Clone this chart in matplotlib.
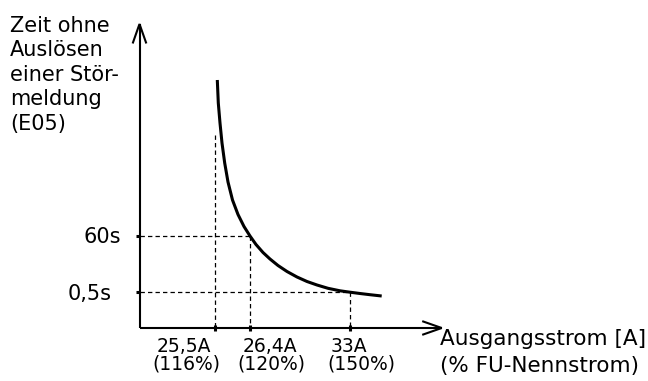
import matplotlib
matplotlib.use("Agg")
import matplotlib.pyplot as plt

# ---- data (schematic; pixel-like coordinates, y downward) ----
curve_x = [217.3, 218.3, 220, 222, 224.7, 228, 232.5, 238, 244, 250, 256, 263, 270, 278, 287, 297,
           307, 317, 328, 340, 350, 360, 370, 381.7]
curve_y = [80, 103, 123, 143, 163, 182, 200, 214.5, 226.5, 236, 244.5, 252.5, 259, 265.5, 271.5, 277,
           281.5, 285, 288.3, 290.8, 292.2, 293.5, 294.7, 296]

origin_x, origin_y = 139.5, 328
yaxis_top = 24
xaxis_right = 441.7

xtick_pos = [214.7, 249.5, 350]
xtick_top = [135, 235.5, 292.2]          # top end of dashed verticals
xtick_line1 = ["25,5A", "26,4A", "33A"]
xtick_line2 = ["(116%)", "(120%)", "(150%)"]
xtick_c1 = [183.7, 269.5, 349]
xtick_c2 = [186, 271, 361]

ytick_pos = [235.5, 292.2]
ytick_right = [249.5, 350]               # right end of dashed horizontals
ytick_labels = ["60s", "0,5s"]
ytick_label_right = [121, 112]

ylabel_lines = ["Zeit ohne", "Auslösen", "einer Stör-", "meldung", "(E05)"]
xlabel_lines = ["Ausgangsstrom [A]", "(% FU-Nennstrom)"]

W, H = 648, 381
plt.rcParams["font.family"] = ["DejaVu Sans"]
fig = plt.figure(figsize=(W / 100, H / 100), dpi=100)
ax = fig.add_axes([0, 0, 1, 1])
ax.set_xlim(0, W)
ax.set_ylim(H, 0)
ax.axis("off")

# axes lines
ax.plot([origin_x, origin_x], [origin_y, yaxis_top], color="black", lw=1.5, solid_capstyle="butt")
ax.plot([origin_x, xaxis_right], [origin_y, origin_y], color="black", lw=1.5, solid_capstyle="butt")
# arrow heads (open chevrons)
hl, hw = 18.5, 6.5
ax.plot([origin_x - hw, origin_x, origin_x + hw], [yaxis_top + hl, yaxis_top, yaxis_top + hl],
        color="black", lw=1.5, solid_joinstyle="miter")
ax.plot([xaxis_right - hl, xaxis_right, xaxis_right - hl], [origin_y - hw, origin_y, origin_y + hw],
        color="black", lw=1.5, solid_joinstyle="miter")

# dashed guide lines
dash = dict(color="black", lw=0.9, dashes=(3.5, 2.5))
for x, top in zip(xtick_pos, xtick_top):
    ax.plot([x, x], [top, origin_y], **dash)
for y, right in zip(ytick_pos, ytick_right):
    ax.plot([origin_x, right], [y, y], **dash)

# tick marks
for x in xtick_pos:
    ax.plot([x, x], [origin_y - 3, origin_y + 3], color="black", lw=2.2, solid_capstyle="butt")
for y in ytick_pos:
    ax.plot([origin_x - 4, origin_x], [y, y], color="black", lw=2.2, solid_capstyle="butt")

# curve
ax.plot(curve_x, curve_y, color="black", lw=2.2, solid_capstyle="butt", solid_joinstyle="round")

# tick labels
for t, c in zip(xtick_line1, xtick_c1):
    ax.text(c, 352, t, ha="center", va="baseline", fontsize=13.5)
for t, c in zip(xtick_line2, xtick_c2):
    ax.text(c, 370, t, ha="center", va="baseline", fontsize=13.5)
for t, y, r in zip(ytick_labels, [242.7, 300], ytick_label_right):
    ax.text(r, y, t, ha="right", va="baseline", fontsize=15)

# axis labels
for i, t in enumerate(ylabel_lines):
    ax.text(10, 31.7 + 24.5 * i, t, ha="left", va="baseline", fontsize=15)
for t, y in zip(xlabel_lines, [345, 372]):
    ax.text(440.5, y, t, ha="left", va="baseline", fontsize=15.5)

fig.savefig("out.png", dpi=100)
